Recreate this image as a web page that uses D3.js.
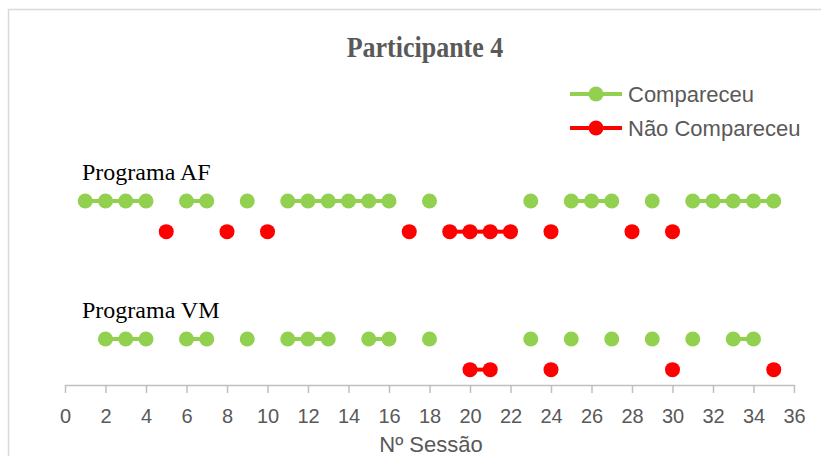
<!DOCTYPE html>
<html><head><meta charset="utf-8">
<script src="https://cdn.jsdelivr.net/npm/d3@7/dist/d3.min.js"></script>
<style>body{margin:0;background:#fff}</style>
</head><body>
<svg id="c" width="821" height="456"></svg>
<script>
// Data
const afCompareceu = [1,2,3,4,6,7,9,11,12,13,14,15,16,18,23,25,26,27,29,31,32,33,34,35];
const afNaoCompareceu = [5,8,10,17,19,20,21,22,24,28,30];
const vmCompareceu = [2,3,4,6,7,9,11,12,13,15,16,18,23,25,27,29,31,33,34];
const vmNaoCompareceu = [20,21,24,30,35];
const rowLevels = {afC: 12, afN: 10, vmC: 3, vmN: 1};
const xTicks = d3.range(0, 37, 2);
const seriesNames = ["Compareceu", "Não Compareceu"];
const groupLabels = ["Programa AF", "Programa VM"];

const GREEN = "#92D050", RED = "#FF0000";
const svg = d3.select("#c");

// chart border
svg.append("rect").attr("x", 8.5).attr("y", 9.5).attr("width", 830).attr("height", 460)
  .attr("fill", "none").attr("stroke", "#D9D9D9").attr("stroke-width", 1.5);

const x = d3.scaleLinear().domain([0, 36]).range([65, 794]);
const y = d3.scaleLinear().domain([0, 12]).range([385, 201]);

// title
svg.append("text").attr("x", 425).attr("y", 57).attr("text-anchor", "middle")
  .attr("font-family", "Liberation Serif, Times New Roman, serif").attr("font-weight", "bold")
  .attr("font-size", 26).attr("fill", "#595959")
  .attr("transform", "translate(0,57) scale(1,1.12) translate(0,-57)")
  .text("Participante 4");

// group labels
svg.append("text").attr("x", 82).attr("y", 180).attr("font-family", "Liberation Serif, serif")
  .attr("font-size", 24).attr("fill", "#000").text(groupLabels[0]);
svg.append("text").attr("x", 82).attr("y", 318).attr("font-family", "Liberation Serif, serif")
  .attr("font-size", 24).attr("fill", "#000").text(groupLabels[1]);

// axis
const axis = d3.axisBottom(x).tickValues(xTicks).tickSize(8).tickPadding(16).tickSizeOuter(0);
const gA = svg.append("g").attr("transform", `translate(0,${y(0)})`).call(axis);
gA.select(".domain").attr("stroke", "#BFBFBF").attr("stroke-width", 1.5);
gA.selectAll(".tick line").attr("stroke", "#BFBFBF").attr("stroke-width", 1.5);
gA.selectAll(".tick text").attr("font-family", "Liberation Sans Narrow, Arial Narrow, sans-serif")
  .attr("font-size", 20).attr("fill", "#595959");

svg.append("text").attr("x", 431).attr("y", 452).attr("text-anchor", "middle")
  .attr("font-family", "Liberation Sans Narrow, Arial Narrow, sans-serif")
  .attr("font-size", 22).attr("fill", "#595959").text("Nº Sessão");

// draw series: lines only between consecutive sessions
function drawSeries(vals, level, color) {
  const g = svg.append("g");
  const set = new Set(vals);
  vals.forEach(v => {
    if (set.has(v + 1)) {
      g.append("line").attr("x1", x(v)).attr("x2", x(v + 1))
        .attr("y1", y(level)).attr("y2", y(level))
        .attr("stroke", color).attr("stroke-width", 4);
    }
  });
  g.selectAll("circle").data(vals).join("circle")
    .attr("cx", d => x(d)).attr("cy", y(level)).attr("r", 7.5).attr("fill", color);
}
drawSeries(afCompareceu, rowLevels.afC, GREEN);
drawSeries(afNaoCompareceu, rowLevels.afN, RED);
drawSeries(vmCompareceu, rowLevels.vmC, GREEN);
drawSeries(vmNaoCompareceu, rowLevels.vmN, RED);

// legend
const legend = svg.append("g");
[[seriesNames[0], GREEN, 94], [seriesNames[1], RED, 128]].forEach(([name, col, ly]) => {
  legend.append("line").attr("x1", 570).attr("x2", 622).attr("y1", ly).attr("y2", ly)
    .attr("stroke", col).attr("stroke-width", 4);
  legend.append("circle").attr("cx", 596).attr("cy", ly).attr("r", 7.5).attr("fill", col);
  legend.append("text").attr("x", 628).attr("y", ly + 7.5)
    .attr("font-family", "Liberation Sans Narrow, Arial Narrow, sans-serif")
    .attr("font-size", 22).attr("fill", "#595959").text(name);
});
</script>
</body></html>
